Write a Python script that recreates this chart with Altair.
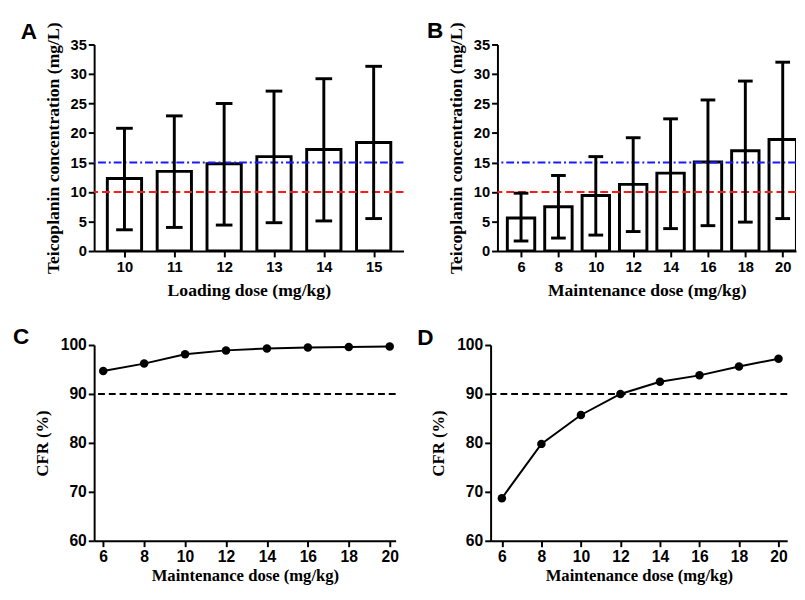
import altair as alt
import pandas as pd

# ---- data ----
loading_dose = [10, 11, 12, 13, 14, 15]
loading_mean = [12.3, 13.5, 14.8, 16.0, 17.2, 18.4]
loading_lower = [3.6, 4.0, 4.4, 4.8, 5.1, 5.5]
loading_upper = [20.8, 22.9, 25.0, 27.1, 29.2, 31.3]

maint_dose = [6, 8, 10, 12, 14, 16, 18, 20]
maint_mean = [5.6, 7.5, 9.4, 11.3, 13.2, 15.1, 17.0, 18.9]
maint_lower = [1.7, 2.2, 2.7, 3.3, 3.8, 4.3, 4.9, 5.5]
maint_upper = [9.8, 12.8, 16.0, 19.2, 22.4, 25.6, 28.8, 32.0]

cfr_dose = [6, 8, 10, 12, 14, 16, 18, 20]
cfr_c = [94.7, 96.2, 98.1, 98.9, 99.3, 99.5, 99.6, 99.7]
cfr_d = [68.7, 79.8, 85.7, 90.0, 92.5, 93.8, 95.6, 97.2]

conc_ticks = [0, 5, 10, 15, 20, 25, 30, 35]
cfr_ticks = [60, 70, 80, 90, 100]
target_high = 15
target_low = 10
cfr_target = 90
panel_letters = ["A", "B", "C", "D"]

LABEL_FONT = "Liberation Sans"
TITLE_FONT = "Liberation Serif"


def letter_mark(letter, dx, dy):
    return alt.Chart(pd.DataFrame({"letter": [letter]})).mark_text(
        align="left", baseline="alphabetic", fontSize=23, fontWeight="bold",
        font=LABEL_FONT, color="black"
    ).encode(text="letter:N", x=alt.value(dx), y=alt.value(dy))


def frame_guide(gx, gy1, gy2):
    # invisible layout guide that fixes the panel's outer extent
    return alt.Chart(pd.DataFrame({"g": [0]})).mark_rule(
        opacity=0, strokeWidth=1, color="white"
    ).encode(x=alt.value(gx), y=alt.value(gy1), y2=alt.value(gy2))


def axis(values, title, label_size, title_size, label_pad, title_pad):
    return alt.Axis(values=values, title=title, format="d", labelFontSize=label_size,
                    titleFontSize=title_size, labelPadding=label_pad,
                    titlePadding=title_pad, labelOverlap=False)


def bar_panel(dose, mean, lower, upper, letter, domain, width, height,
              bar_size, cap_size, xtitle, ldx, ldy, extra=None):
    df = pd.DataFrame({"dose": dose, "mean": mean, "lower": lower, "upper": upper})
    base = alt.Chart(df)
    xs = alt.Scale(domain=domain, nice=False, zero=False)
    ys = alt.Scale(domain=[0, 35], nice=False)
    xax = axis(dose, xtitle, 15, 18, 3, 7)
    yax = axis(conc_ticks, "Teicoplanin concentration (mg/L)", 15, 18, 2, 8)

    def X():
        return alt.X("dose:Q", scale=xs, axis=xax)

    def Y(f):
        return alt.Y(f + ":Q", scale=ys, axis=yax)

    def YD(v):
        return alt.Y(datum=v, scale=ys, axis=yax)

    bars = base.mark_bar(size=bar_size, fill="white", stroke="black",
                         strokeWidth=3, orient="vertical", clip=True).encode(
        x=X(), y=Y("mean"), y2=alt.datum(0))
    red = alt.Chart(pd.DataFrame({"v": [0]})).mark_rule(
        color="#ff1a1a", strokeWidth=2, strokeDash=[8, 4]).encode(y=YD(target_low))
    blue = alt.Chart(pd.DataFrame({"v": [0]})).mark_rule(
        color="#1a1aff", strokeWidth=2, strokeDash=[8, 3, 2, 3]).encode(y=YD(target_high))
    err = base.mark_rule(color="black", strokeWidth=3).encode(
        x=X(), y=Y("lower"), y2="upper:Q")
    cap_hi = base.mark_tick(orient="horizontal", size=cap_size, thickness=3,
                            color="black", opacity=1).encode(x=X(), y=Y("upper"))
    cap_lo = base.mark_tick(orient="horizontal", size=cap_size, thickness=3,
                            color="black", opacity=1).encode(x=X(), y=Y("lower"))
    layers = [bars, red, blue, err, cap_hi, cap_lo, letter_mark(letter, ldx, ldy)]
    if extra is not None:
        layers.append(extra)
    return alt.layer(*layers).properties(width=width, height=height)


def line_panel(dose, cfr, letter, domain, width, height, ldx, ldy, extra=None):
    df = pd.DataFrame({"dose": dose, "cfr": cfr})
    base = alt.Chart(df)
    xs = alt.Scale(domain=domain, nice=False, zero=False)
    ys = alt.Scale(domain=[60, 100], nice=False, zero=False)
    xax = axis(dose, "Maintenance dose (mg/kg)", 16, 17, 2, 4)
    yax = axis(cfr_ticks, "CFR (%)", 16, 17, 2, 9)
    x = alt.X("dose:Q", scale=xs, axis=xax)
    y = alt.Y("cfr:Q", scale=ys, axis=yax)
    ref = alt.Chart(pd.DataFrame({"v": [0]})).mark_rule(
        color="black", strokeWidth=2, strokeDash=[7, 4]).encode(
        y=alt.Y(datum=cfr_target, scale=ys, axis=yax))
    line = base.mark_line(color="black", strokeWidth=2).encode(x=x, y=y)
    pts = base.mark_point(filled=True, color="black", size=75, opacity=1).encode(x=x, y=y)
    layers = [ref, line, pts, letter_mark(letter, ldx, ldy)]
    if extra is not None:
        layers.append(extra)
    return alt.layer(*layers).properties(width=width, height=height)


pa = bar_panel(loading_dose, loading_mean, loading_lower, loading_upper, panel_letters[0],
               [9.49, 15.5], 316, 211, 35, 17, "Loading dose (mg/kg)", -75, -6,
               extra=frame_guide(-80, -31, 268))
pb = bar_panel(maint_dose, maint_mean, maint_lower, maint_upper, panel_letters[1],
               [5.0, 20.45], 305, 211, 28, 15, "Maintenance dose (mg/kg)", -72, -7)
pc = line_panel(cfr_dose, cfr_c, panel_letters[2], [5.556, 20.29], 308, 200, -83, -1,
                extra=frame_guide(-87.7, -30, 0))
pd_ = line_panel(cfr_dose, cfr_d, panel_letters[3], [5.43, 20.44], 303, 200, -75, 0)

row1 = alt.hconcat(pa, pb, spacing=23)
row2 = alt.hconcat(pc, pd_, spacing=19)

chart = alt.concat(row1, row2, columns=1, spacing=9, align="none").properties(
    padding={"left": 0, "top": 0, "right": 0, "bottom": 0}
).configure_axis(
    grid=False, domainColor="black", domainWidth=2, tickColor="black", tickWidth=2,
    tickSize=6, labelFont=LABEL_FONT, labelFontWeight="bold",
    labelColor="black", titleFont=TITLE_FONT, titleFontWeight="bold",
    titleColor="black"
).configure_view(stroke=None)

chart.save("out.html", embed_options={"renderer": "svg", "actions": False})
